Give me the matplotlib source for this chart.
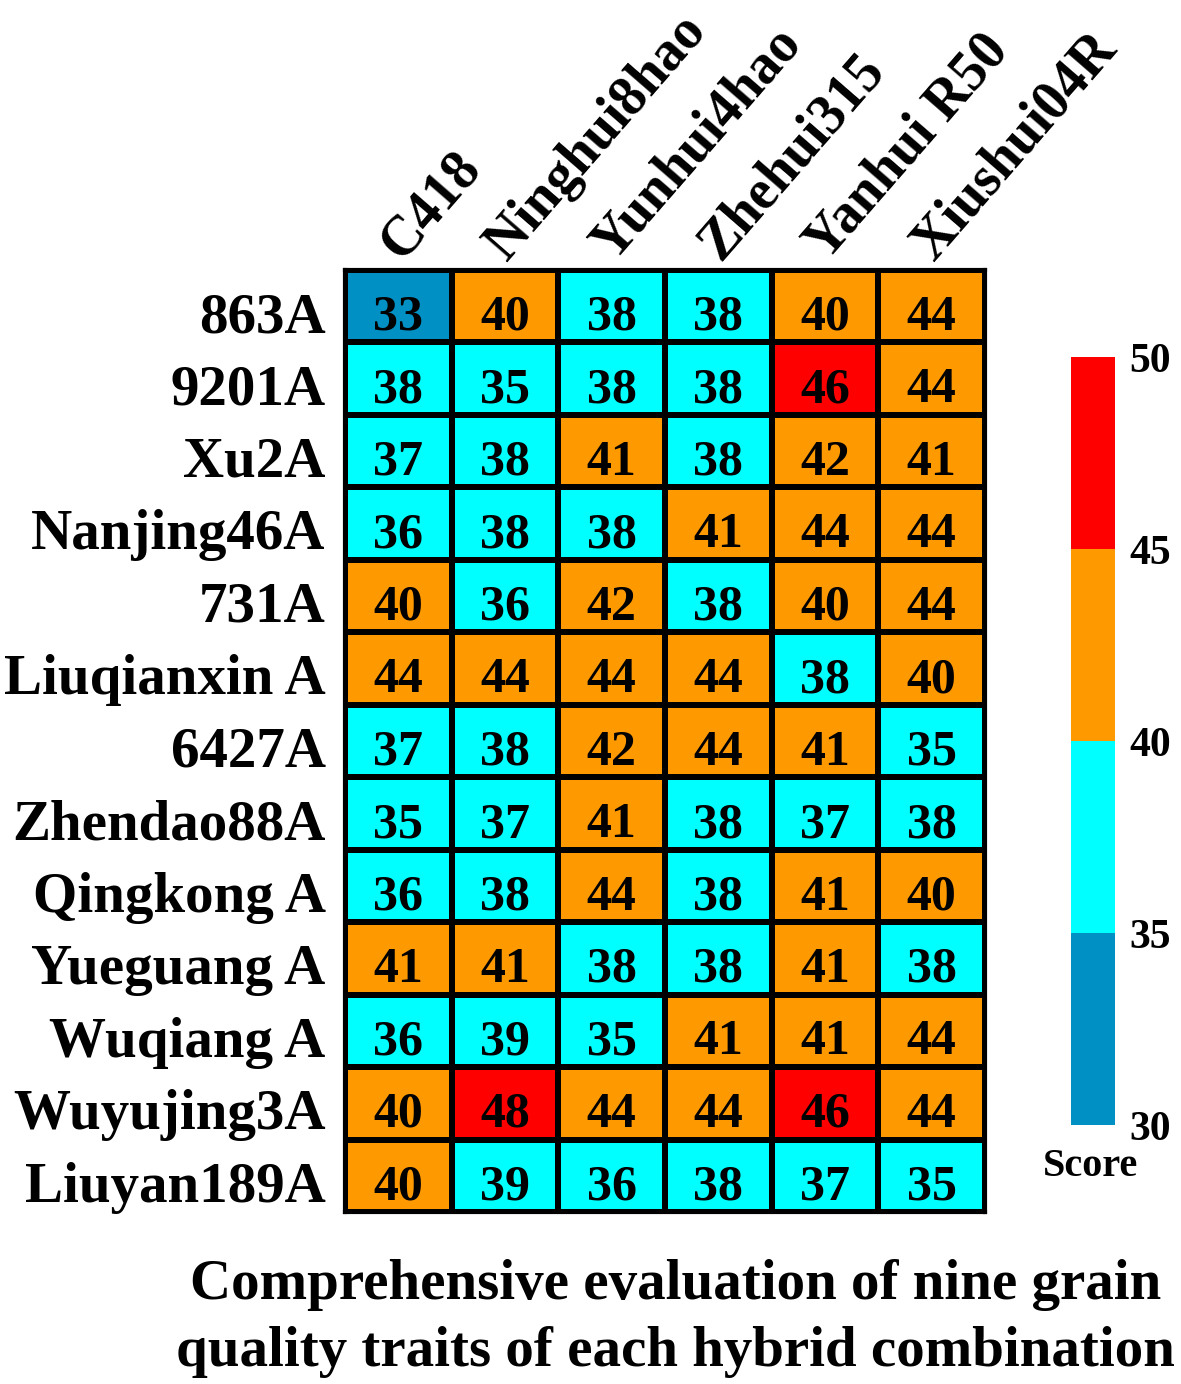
import numpy as np
import matplotlib
matplotlib.use("Agg")
import matplotlib.pyplot as plt
from matplotlib.colors import ListedColormap, BoundaryNorm

plt.rcParams['font.family'] = ['Liberation Serif', 'DejaVu Serif']
plt.rcParams['font.weight'] = 'bold'

rows = ["863A", "9201A", "Xu2A", "Nanjing46A", "731A", "Liuqianxin A", "6427A",
        "Zhendao88A", "Qingkong A", "Yueguang A", "Wuqiang A", "Wuyujing3A", "Liuyan189A"]
cols = ["C418", "Ninghui8hao", "Yunhui4hao", "Zhehui315", "Yanhui R50", "Xiushui04R"]
scores = [
    [33, 40, 38, 38, 40, 44],
    [38, 35, 38, 38, 46, 44],
    [37, 38, 41, 38, 42, 41],
    [36, 38, 38, 41, 44, 44],
    [40, 36, 42, 38, 40, 44],
    [44, 44, 44, 44, 38, 40],
    [37, 38, 42, 44, 41, 35],
    [35, 37, 41, 38, 37, 38],
    [36, 38, 44, 38, 41, 40],
    [41, 41, 38, 38, 41, 38],
    [36, 39, 35, 41, 41, 44],
    [40, 48, 44, 44, 46, 44],
    [40, 39, 36, 38, 37, 35],
]
bounds = [30, 35, 40, 45, 50]
colors = ["#0090C4", "#00FFFF", "#FF9900", "#FF0000"]

data = np.array(scores)
cmap = ListedColormap(colors)
norm = BoundaryNorm(bounds, cmap.N)

fig = plt.figure(figsize=(11.81, 13.84), dpi=100)
ax = fig.add_axes([0.2921, 0.1243, 0.5419, 0.6806])
mesh = ax.pcolormesh(data, cmap=cmap, norm=norm, edgecolors='black', linewidth=3)
ax.set_xlim(0, len(cols))
ax.set_ylim(len(rows), 0)
for s in ax.spines.values():
    s.set_linewidth(3)

for i in range(len(rows)):
    for j in range(len(cols)):
        ax.text(j + 0.5, i + 0.66, str(data[i, j]), ha='center', va='center',
                fontsize=36, fontweight='bold', color='black')

ax.set_yticks(np.arange(len(rows)) + 0.58)
ax.set_yticklabels(rows, fontsize=41, fontweight='bold')
ax.tick_params(axis='y', length=0, pad=14)
ax.set_xticks([])
for j, c in enumerate(cols):
    ax.text(j + 0.52, -0.11, c, rotation=49, rotation_mode='anchor', ha='left', va='baseline',
            fontsize=40, fontweight='bold')

cax = fig.add_axes([0.9069, 0.1871, 0.0373, 0.5549])
cb = fig.colorbar(mesh, cax=cax, ticks=bounds)
cb.outline.set_visible(False)
cax.tick_params(length=0, labelsize=30, pad=10)
for t in cax.get_yticklabels():
    t.set_fontweight('bold')

fig.text(0.923, 1 - 1167 / 1384, "Score", ha='center', va='center', fontsize=29, fontweight='bold')
fig.text(0.572, 1 - 1285 / 1384, "Comprehensive evaluation of nine grain", ha='center', va='center',
         fontsize=41, fontweight='bold')
fig.text(0.572, 1 - 1352 / 1384, "quality traits of each hybrid combination", ha='center', va='center',
         fontsize=41, fontweight='bold')

fig.savefig("out.png", dpi=100)
